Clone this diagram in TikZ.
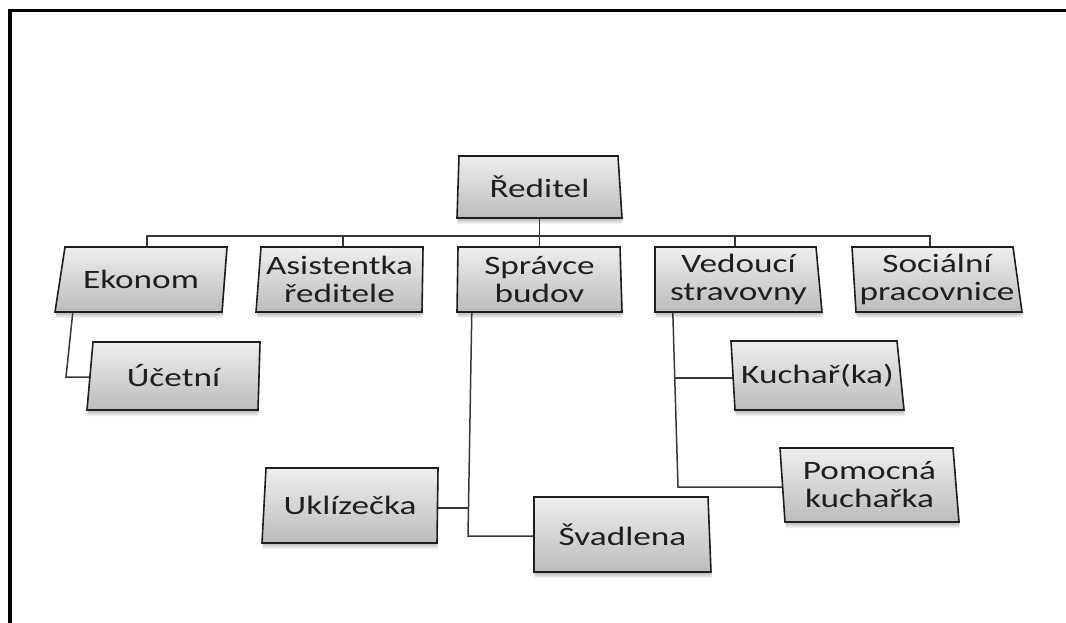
\documentclass[tikz,border=0pt]{standalone}
\usepackage{fontspec}
\setmainfont{Carlito}[FakeStretch=1.33]
\usetikzlibrary{fit}
\pgfdeclarelayer{bg}
\pgfsetlayers{bg,main}
\definecolor{boxtop}{RGB}{238,238,238}
\definecolor{boxbot}{RGB}{188,188,188}
\definecolor{edgec}{RGB}{30,30,30}
\definecolor{linec}{RGB}{55,55,55}
\tikzset{
  boxedge/.style={draw=edgec, line width=1.6pt, line join=miter},
  boxarea/.style={inner sep=0pt, draw=none},
  boxtext/.style={inner sep=0pt, align=center, text=black!88, font=\fontsize{26.5}{28}\selectfont},
  conn/.style={draw=linec, line width=1.5pt},
  frameline/.style={draw=black, line width=3.5pt, line join=miter},
}
\newcommand{\orgbox}[6]{%
  \begin{pgfonlayer}{bg}
  \foreach \s in {1,2,3,4,5,6}{%
    \fill[black,opacity=0.05,xshift=0.6pt,yshift=-\s*1pt] (#2) -- (#3) -- (#4) -- (#5) -- cycle;}
  \end{pgfonlayer}
  \shade[top color=boxtop,bottom color=boxbot] (#2) -- (#3) -- (#4) -- (#5) -- cycle;
  \draw[boxedge] (#2) -- (#3) -- (#4) -- (#5) -- cycle;
  \node[boxarea, fit={(#2) (#3) (#4) (#5)}] (#1) {};
  \node[boxtext] (#1-t) at (#1.center) {#6};
}
\begin{document}
\begin{tikzpicture}[x=1pt,y=-1pt]
\useasboundingbox (0,0) rectangle (1066,623);
\draw[frameline] (10,640) -- (10,10.5) -- (1080,10.5);

\orgbox{red}{459,156}{618,156}{622,218}{457,218}{Ředitel}
\orgbox{eko}{65,247}{227,247}{222,312}{55,312}{Ekonom}
\orgbox{asi}{261,247}{423,247}{422,312}{256,312}{Asistentka\\ředitele}
\orgbox{spr}{458,247}{620,247}{622,312}{457,312}{Správce\\budov}
\orgbox{ved}{655,247}{816,247}{822,312}{655,312}{Vedoucí\\stravovny}
\orgbox{soc}{852,247}{1013,247}{1022,312}{856,312}{Sociální\\pracovnice}
\orgbox{uce}{93,342}{260,342}{258,410}{87,410}{Účetní}
\orgbox{kuc}{731,341}{897,341}{904,410}{735,410}{Kuchař(ka)}
\orgbox{pom}{780,448}{953,448}{959,522}{785,522}{Pomocná\\kuchařka}
\orgbox{ukl}{266,468}{438,468}{437,543}{262,543}{Uklízečka}
\orgbox{sva}{534,497}{708,497}{711,572}{534,572}{Švadlena}

\begin{pgfonlayer}{bg}
\coordinate (bus) at (539,236);
\draw[conn] (red.south) -- (spr.north);
\coordinate (ekotop) at ([xshift=6pt]eko.north);
\coordinate (soctop) at ([xshift=-7pt]soc.north);
\draw[conn] (ekotop) |- (bus) -| (soctop);
\coordinate (asitop) at ([xshift=3.5pt]asi.north);
\draw[conn] (asitop) -- (asitop |- bus);
\coordinate (vedtop) at ([xshift=-3.5pt]ved.north);
\draw[conn] (vedtop) -- (vedtop |- bus);
% Ekonom -> Ucetni
\coordinate (ekobot) at ([xshift=18pt]eko.south west);
\coordinate (ekoturn) at (66,377);
\draw[conn] (ekobot) -- (ekoturn) -- (ekoturn -| uce.center);
% Spravce -> Uklizecka, Svadlena
\coordinate (sprbot) at ([xshift=15pt]spr.south west);
\coordinate (sprturn) at (468,536);
\draw[conn] (sprbot) -- (sprturn) -- (sprturn -| sva.center);
\coordinate (ukljoin) at (469,508);
\draw[conn] (ukljoin) -- (ukljoin -| ukl.center);
% Vedouci -> Kuchar, Pomocna
\coordinate (vedbot) at ([xshift=18pt]ved.south west);
\coordinate (vedturn) at (678,487);
\draw[conn] (vedbot) -- (vedturn) -- (vedturn -| pom.center);
\coordinate (vedjoin) at (675,378);
\draw[conn] (vedjoin) -- (vedjoin -| kuc.center);
\end{pgfonlayer}
\end{tikzpicture}
\end{document}
